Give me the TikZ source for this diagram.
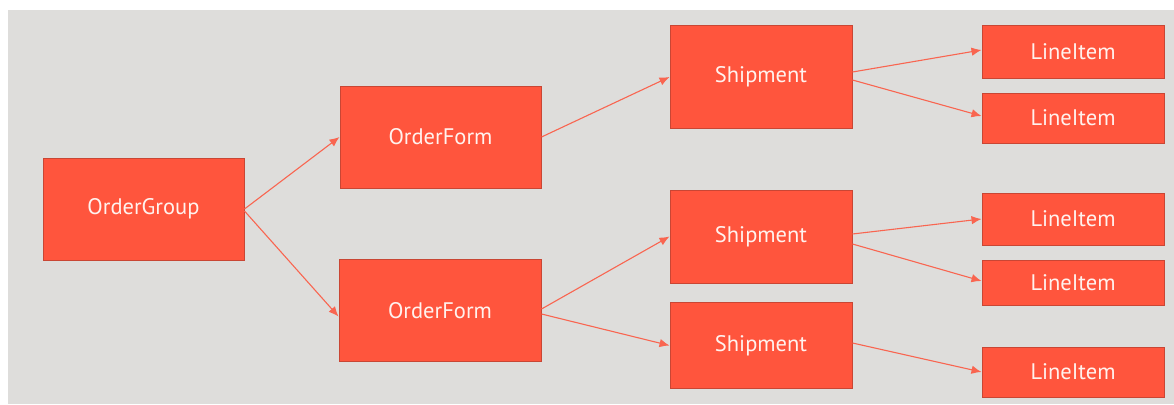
\documentclass[tikz,border=0pt]{standalone}
\usepackage{fontspec}
\setmainfont{PT Sans}
\usetikzlibrary{arrows.meta}
\definecolor{bgray}{HTML}{DEDDDB}
\definecolor{boxred}{HTML}{FF553D}
\definecolor{boxedge}{HTML}{C94634}
\definecolor{linkred}{HTML}{F96550}
\definecolor{labelwhite}{HTML}{FFF2EE}
\begin{document}
\begin{tikzpicture}[x=1pt, y=-1pt,
    entity/.style={draw=boxedge, fill=boxred, line width=1pt, text=labelwhite,
        font=\fontsize{22.5}{26}\selectfont, inner sep=0pt},
    link/.style={draw=linkred, line width=1.1pt, -{Latex[length=10pt,width=8.5pt]}}]
    \fill[white] (0,0) rectangle (1174,404);
    \fill[bgray] (8,10) rectangle (1174,404);
    \node[entity, minimum width=201pt, minimum height=102pt] (og) at (143.5,209) {OrderGroup};
    \node[entity, minimum width=201pt, minimum height=102pt] (of1) at (440.5,137) {OrderForm};
    \node[entity, minimum width=202pt, minimum height=102pt] (of2) at (440,310.5) {OrderForm};
    \node[entity, minimum width=182pt, minimum height=102pt] (sh1) at (761,77) {Shipment};
    \node[entity, minimum width=182pt, minimum height=93pt] (sh2) at (761,236.5) {Shipment};
    \node[entity, minimum width=182pt, minimum height=86pt] (sh3) at (761,345.5) {Shipment};
    \node[entity, minimum width=182pt, minimum height=52pt] (li1) at (1073,52) {LineItem};
    \node[entity, minimum width=182pt, minimum height=50pt] (li2) at (1073,118) {LineItem};
    \node[entity, minimum width=182pt, minimum height=52pt] (li3) at (1073,219) {LineItem};
    \node[entity, minimum width=182pt, minimum height=45pt] (li4) at (1073,282.5) {LineItem};
    \node[entity, minimum width=182pt, minimum height=50pt] (li5) at (1073,372) {LineItem};
    \draw[link] (og.east) -- (of1.west);
    \draw[link] ([yshift=-2pt]og.east) -- ([yshift=-6pt]of2.west);
    \draw[link] (of1.east) -- (sh1.west);
    \draw[link] ([yshift=1.5pt]of2.east) -- (sh2.west);
    \draw[link] ([yshift=-3.5pt]of2.east) -- (sh3.west);
    \draw[link] ([yshift=5pt]sh1.east) -- ([yshift=2pt]li1.west);
    \draw[link] ([yshift=-3pt]sh1.east) -- ([yshift=2pt]li2.west);
    \draw[link] ([yshift=2.5pt]sh2.east) -- (li3.west);
    \draw[link] ([yshift=-7.5pt]sh2.east) -- ([yshift=1.5pt]li4.west);
    \draw[link] ([yshift=2.5pt]sh3.east) -- (li5.west);
\end{tikzpicture}
\end{document}
